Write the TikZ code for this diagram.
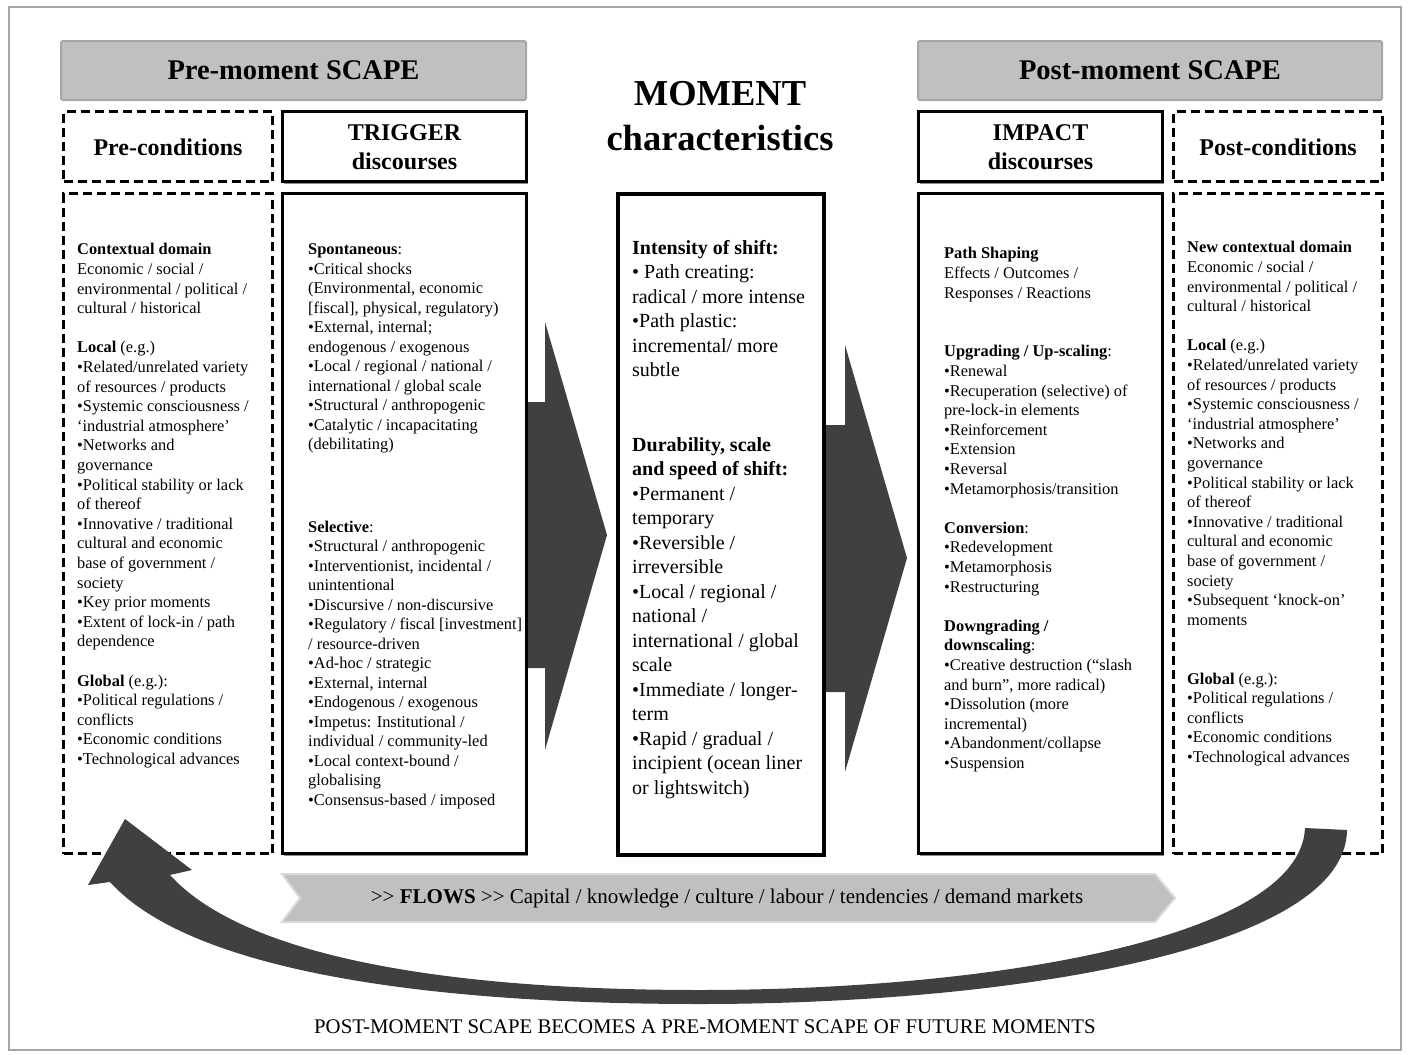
\documentclass[tikz,border=0pt]{standalone}
\usepackage{fontspec}
\setmainfont{Liberation Serif}
\usetikzlibrary{shadows}
\definecolor{arrowgray}{HTML}{404040}
\definecolor{bargray}{HTML}{C0C0C0}
\definecolor{baredge}{HTML}{A6A6A6}
\begin{document}
\begin{tikzpicture}[x=1pt,y=-1pt,
  bar/.style={draw=baredge, line width=2pt, fill=bargray, rounded corners=1.5pt, inner sep=0pt, anchor=north west},
  solidbox/.style={draw=black, line width=3pt, fill=white, inner sep=0pt, anchor=north west,
    drop shadow={shadow xshift=1.5pt, shadow yshift=-2pt, opacity=0.45, fill=black}},
  dashbox/.style={draw=black, line width=3pt, fill=white, dash pattern=on 9pt off 5pt, inner sep=0pt, anchor=north west},
  headtext/.style={align=center, inner sep=0pt, font=\fontsize{24}{29}\selectfont\bfseries},
  coltext/.style={anchor=north west, inner sep=0pt, align=left, font=\fontsize{16.4}{19.6}\selectfont},
  momtext/.style={anchor=north west, inner sep=0pt, align=left, font=\fontsize{20}{24.5}\selectfont},
  darkarrow/.style={fill=arrowgray, draw=none},
]
\useasboundingbox (0,0) rectangle (1409,1055);
\draw[gray!70, line width=1.5pt] (9,7) rectangle (1401,1050);

% dark forward arrows (behind boxes)
\coordinate (a1t) at (607,535);
\fill[darkarrow] (500,402) -- (545,402) -- (545,322) -- (a1t) -- (545,750) -- (545,668) -- (500,668) -- cycle;
\coordinate (a2t) at (907,558);
\fill[darkarrow] (800,425) -- (845,425) -- (845,345) -- (a2t) -- (845,772) -- (845,692) -- (800,692) -- cycle;

% top bars
\node[bar, minimum width=465, minimum height=59] (preBar) at (60,40) {};
\node[font=\fontsize{28.5}{34}\selectfont\bfseries, inner sep=0pt] (preBarT) at (preBar.center) {Pre-moment SCAPE};
\node[bar, minimum width=464, minimum height=59] (postBar) at (917,40) {};
\node[font=\fontsize{28.5}{34}\selectfont\bfseries, inner sep=0pt] (postBarT) at (postBar.center) {Post-moment SCAPE};

% headers
\node[dashbox, minimum width=209, minimum height=70] (preHead) at (62,110) {};
\node[headtext] (preHeadT) at ([yshift=-1]preHead.center) {Pre-conditions};
\node[solidbox, minimum width=244, minimum height=70] (trigHead) at (281,110) {};
\node[headtext] (trigHeadT) at ([yshift=-1]trigHead.center) {TRIGGER\\discourses};
\node[solidbox, minimum width=244, minimum height=70] (impHead) at (917,110) {};
\node[headtext] (impHeadT) at ([yshift=-1]impHead.center) {IMPACT\\discourses};
\node[dashbox, minimum width=209, minimum height=70] (postHead) at (1172,110) {};
\node[headtext] (postHeadT) at ([yshift=-1]postHead.center) {Post-conditions};

\node[align=center, inner sep=0pt, font=\fontsize{36.5}{45}\selectfont\bfseries] (momTitle) at (720,116) {MOMENT\\characteristics};

% bodies
\node[dashbox, minimum width=209, minimum height=660] (preBody) at (62,192) {};
\node[solidbox, minimum width=244, minimum height=660] (trigBody) at (281,192) {};
\node[solidbox, line width=4pt, minimum width=206, minimum height=661] (momBody) at (616,192) {};
\node[solidbox, minimum width=244, minimum height=660] (impBody) at (917,192) {};
\node[dashbox, minimum width=209, minimum height=660] (postBody) at (1172,192) {};

\node[coltext] (preText) at (77,241) {\strut\textbf{Contextual domain}\\
Economic / social /\\
environmental / political /\\
cultural / historical\\[19.6pt]
\textbf{Local} (e.g.)\\
•Related/unrelated variety\\
of resources / products\\
•Systemic consciousness /\\
‘industrial atmosphere’\\
•Networks and\\
governance\\
•Political stability or lack\\
of thereof\\
•Innovative / traditional\\
cultural and economic\\
base of government /\\
society\\
•Key prior moments\\
•Extent of lock-in / path\\
dependence\\[19.6pt]
\textbf{Global} (e.g.):\\
•Political regulations /\\
conflicts\\
•Economic conditions\\
•Technological advances};

\node[coltext, font=\fontsize{16.4}{19.5}\selectfont] (trigText) at (308,241) {\strut\textbf{Spontaneous}:\\
•Critical shocks\\
(Environmental, economic\\
{[}fiscal], physical, regulatory)\\
•External, internal;\\
endogenous / exogenous\\
•Local / regional / national /\\
international / global scale\\
•Structural / anthropogenic\\
•Catalytic / incapacitating\\
(debilitating)\\[63pt]
\textbf{Selective}:\\
•Structural / anthropogenic\\
•Interventionist, incidental /\\
unintentional\\
•Discursive / non-discursive\\
•Regulatory / fiscal [investment]\\
/ resource-driven\\
•Ad-hoc / strategic\\
•External, internal\\
•Endogenous / exogenous\\
•Impetus: Institutional /\\
individual / community-led\\
•Local context-bound /\\
globalising\\
•Consensus-based / imposed};

\node[momtext] (momText) at (632,237) {\strut\textbf{Intensity of shift:}\\
• Path creating:\\
radical / more intense\\
•Path plastic:\\
incremental/ more\\
subtle\\[50pt]
\textbf{Durability, scale}\\
\textbf{and speed of shift:}\\
•Permanent /\\
temporary\\
•Reversible /\\
irreversible\\
•Local / regional /\\
national /\\
international / global\\
scale\\
•Immediate / longer-\\
term\\
•Rapid / gradual /\\
incipient (ocean liner\\
or lightswitch)};

\node[coltext] (impText) at (944,245) {\strut\textbf{Path Shaping}\\
Effects / Outcomes /\\
Responses / Reactions\\[39.2pt]
\textbf{Upgrading / Up-scaling}:\\
•Renewal\\
•Recuperation (selective) of\\
pre-lock-in elements\\
•Reinforcement\\
•Extension\\
•Reversal\\
•Metamorphosis/transition\\[19.6pt]
\textbf{Conversion}:\\
•Redevelopment\\
•Metamorphosis\\
•Restructuring\\[19.6pt]
\textbf{Downgrading /}\\
\textbf{downscaling}:\\
•Creative destruction (“slash\\
and burn”, more radical)\\
•Dissolution (more\\
incremental)\\
•Abandonment/collapse\\
•Suspension};

\node[coltext] (postText) at (1187,239) {\strut\textbf{New contextual domain}\\
Economic / social /\\
environmental / political /\\
cultural / historical\\[19.6pt]
\textbf{Local} (e.g.)\\
•Related/unrelated variety\\
of resources / products\\
•Systemic consciousness /\\
‘industrial atmosphere’\\
•Networks and\\
governance\\
•Political stability or lack\\
of thereof\\
•Innovative / traditional\\
cultural and economic\\
base of government /\\
society\\
•Subsequent ‘knock-on’\\
moments\\[39.2pt]
\textbf{Global} (e.g.):\\
•Political regulations /\\
conflicts\\
•Economic conditions\\
•Technological advances};

% flows chevron
\fill[bargray, draw=gray!30, line width=2pt] (282,874) -- (1155,874) -- (1175,898) -- (1155,922) -- (282,922) -- (300,898) -- cycle;
\node[inner sep=0pt, font=\fontsize{21}{25}\selectfont] (flows) at (727,898) {>{}> \textbf{FLOWS} >{}> Capital / knowledge / culture / labour / tendencies / demand markets};

% big curved return arrow
\coordinate (tailR) at (1326,828);
\coordinate (headTip) at (125,819);
\fill[darkarrow] (1347,830) .. controls (1346,950) and (1010,1004) .. (700,1004)
  .. controls (400,1004) and (185,965) .. (110,882)
  -- (88,885) -- (headTip) -- (192,870) -- (170,875)
  .. controls (238,950) and (420,990) .. (700,990)
  .. controls (985,990) and (1300,940) .. (1305,828)
  -- cycle;

\node[inner sep=0pt, font=\fontsize{20.8}{24}\selectfont] (bottomT) at (705,1027) {POST-MOMENT SCAPE BECOMES A PRE-MOMENT SCAPE OF FUTURE MOMENTS};
\end{tikzpicture}
\end{document}
